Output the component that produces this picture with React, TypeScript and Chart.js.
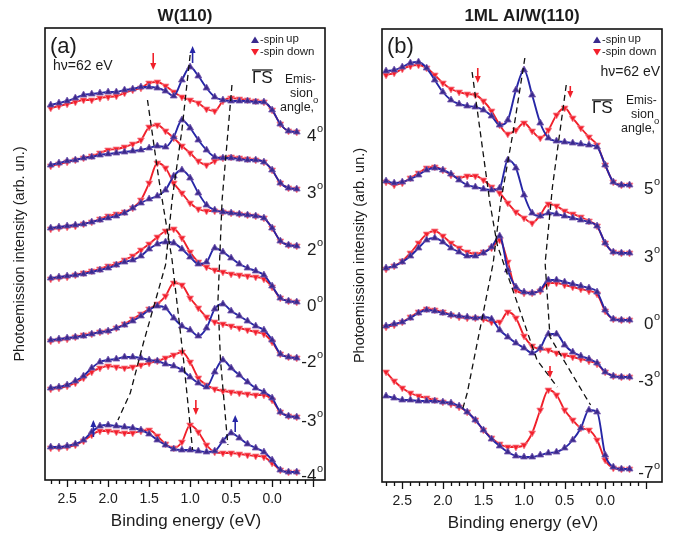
import React, { useEffect, useRef } from "react";
import { Chart, registerables } from "chart.js";

Chart.register(...registerables);

// ---------- shared data ----------
const energies = [2.7, 2.6, 2.5, 2.4, 2.3, 2.2, 2.1, 2.0, 1.9, 1.8, 1.7, 1.6, 1.5, 1.4, 1.3, 1.2, 1.1, 1.0, 0.9, 0.8, 0.7, 0.6, 0.5, 0.4, 0.3, 0.2, 0.1, 0.0, -0.1, -0.2, -0.3];
const majorTicks = [2.5, 2.0, 1.5, 1.0, 0.5, 0.0, -0.5];
const tickLabels = ["2.5", "2.0", "1.5", "1.0", "0.5", "0.0", ""];

// ---------- panel (a) W(110) ----------
const anglesA = ["4", "3", "2", "0", "-2", "-3", "-4"];
const offsetsA = [348, 291, 234, 178, 122, 63, 8];
const a4Up = [27, 29, 31, 34, 37, 38, 39, 40, 40, 42, 43, 45, 45, 44, 41, 36, 52, 65, 56, 44, 35, 32, 31, 31, 31, 30, 30, 22, 8, 1, 0];
const a4Down = [24, 26, 28, 30, 32, 32, 34, 35, 36, 39, 42, 44, 49, 50, 46, 40, 35, 32, 29, 23, 21, 31, 34, 33, 32, 31, 30, 22, 8, 1, 0];
const a3Up = [24, 26, 28, 29, 31, 32, 34, 35, 36, 37, 38, 39, 41, 43, 42, 52, 69, 61, 49, 39, 32, 31, 31, 30, 29, 29, 27, 19, 6, 1, 0];
const a3Down = [23, 25, 27, 29, 31, 33, 36, 39, 40, 42, 45, 49, 62, 64, 58, 51, 43, 36, 28, 24, 28, 31, 32, 31, 30, 29, 27, 19, 6, 1, 0];
const a2Up = [18, 19, 20, 21, 22, 24, 26, 28, 30, 33, 38, 43, 47, 50, 56, 70, 76, 68, 53, 41, 36, 34, 33, 32, 31, 30, 28, 18, 5, 1, 0];
const a2Down = [17, 18, 19, 20, 22, 24, 27, 30, 32, 34, 38, 46, 63, 83, 78, 63, 53, 43, 37, 35, 35, 34, 33, 32, 31, 30, 28, 18, 5, 1, 0];
const a0Up = [24, 25, 26, 27, 28, 30, 32, 34, 37, 40, 42, 46, 53, 58, 60, 59, 53, 45, 38, 40, 54, 50, 44, 38, 34, 31, 27, 16, 4, 1, 0];
const a0Down = [23, 24, 25, 27, 29, 31, 33, 36, 38, 42, 46, 52, 58, 65, 71, 73, 64, 50, 40, 35, 32, 30, 28, 27, 26, 25, 23, 15, 4, 1, 0];
const am2Up = [18, 19, 20, 21, 22, 24, 26, 27, 30, 33, 37, 42, 48, 52, 50, 40, 32, 28, 22, 30, 49, 54, 47, 42, 37, 32, 28, 18, 4, 1, 0];
const am2Down = [17, 18, 19, 21, 23, 24, 26, 27, 30, 34, 39, 44, 49, 54, 62, 75, 73, 60, 50, 41, 36, 34, 32, 30, 28, 26, 24, 16, 4, 1, 0];
const am3Up = [29, 30, 32, 36, 41, 49, 55, 57, 58, 60, 60, 59, 57, 56, 53, 51, 47, 40, 34, 30, 45, 57, 49, 42, 35, 29, 25, 19, 5, 1, 0];
const am3Down = [28, 29, 31, 34, 39, 45, 49, 51, 50, 49, 50, 52, 54, 56, 59, 62, 65, 55, 39, 32, 28, 26, 25, 24, 23, 22, 22, 17, 5, 1, 0];
const am4Up = [25, 25, 26, 28, 32, 40, 46, 47, 46, 45, 44, 42, 38, 32, 27, 23, 22, 22, 21, 20, 21, 31, 39, 34, 28, 24, 20, 12, 2, 0, 0];
const am4Down = [24, 24, 25, 27, 31, 37, 41, 41, 40, 39, 39, 41, 42, 36, 28, 24, 30, 47, 40, 27, 20, 19, 19, 18, 17, 16, 15, 9, 2, 0, 0];
const upA = [a4Up, a3Up, a2Up, a0Up, am2Up, am3Up, am4Up];
const downA = [a4Down, a3Down, a2Down, a0Down, am2Down, am3Down, am4Down];

// dispersion guides (energy, intensity) for panel (a)
const guideA1E = [1.52, 1.38, 1.22, 1.08, 0.97];
const guideA1I = [380, 300, 220, 120, 30];
const guideA2E = [1.0, 1.1, 1.22, 1.3, 1.57, 1.73, 1.88];
const guideA2I = [425, 350, 280, 215, 137, 87, 60];
const guideA3E = [0.49, 0.61, 0.66, 0.63, 0.54];
const guideA3I = [395, 280, 180, 120, 35];

// peak arrows for panel (a)
const arrowAE = [1.45, 0.97, 2.18, 0.93, 0.45];
const arrowAFrom = [427, 417, 43, 80, 48];
const arrowATo = [410, 434, 60, 65, 65];
const arrowASpin = ["down", "up", "up", "down", "up"];

// ---------- panel (b) 1ML Al/W(110) ----------
const anglesB = ["5", "3", "0", "-3", "-7"];
const offsetsB = [297, 229, 162, 105, 13];
const b5Up = [114, 115, 118, 122, 123, 117, 105, 93, 85, 81, 79, 78, 75, 69, 60, 65, 95, 115, 90, 62, 47, 44, 43, 42, 41, 40, 38, 20, 3, 0, 0];
const b5Down = [110, 112, 116, 119, 120, 117, 110, 102, 96, 93, 91, 90, 84, 74, 60, 51, 55, 62, 54, 47, 55, 70, 77, 67, 57, 48, 40, 20, 3, 0, 0];
const b3Up = [72, 70, 71, 74, 78, 83, 85, 83, 79, 73, 68, 66, 64, 63, 65, 93, 85, 58, 40, 37, 40, 39, 37, 35, 33, 31, 27, 10, 1, 0, 0];
const b3Down = [71, 68, 70, 75, 80, 85, 86, 83, 78, 75, 77, 77, 73, 66, 60, 50, 41, 35, 30, 38, 49, 47, 42, 39, 36, 32, 27, 10, 1, 0, 0];
const b0Up = [52, 54, 58, 64, 72, 80, 82, 78, 72, 68, 64, 64, 67, 73, 84, 50, 33, 28, 27, 30, 40, 40, 38, 36, 34, 32, 28, 10, 1, 0, 0];
const b0Down = [51, 54, 59, 67, 77, 86, 89, 84, 77, 72, 68, 66, 68, 72, 80, 58, 30, 27, 27, 29, 37, 37, 35, 33, 31, 29, 26, 9, 1, 0, 0];
const bm3Up = [51, 53, 55, 59, 64, 67, 66, 64, 62, 61, 60, 59, 60, 58, 47, 40, 34, 29, 24, 29, 43, 43, 32, 25, 21, 18, 14, 5, 1, 0, 0];
const bm3Down = [50, 52, 55, 60, 65, 68, 67, 65, 62, 60, 59, 59, 58, 55, 55, 65, 59, 41, 31, 28, 27, 24, 22, 20, 18, 16, 13, 5, 1, 0, 0];
const bm7Up = [73, 71, 69, 69, 68, 68, 68, 67, 66, 63, 57, 49, 39, 30, 23, 17, 13, 12, 12, 14, 16, 17, 21, 29, 41, 59, 57, 14, 2, 0, 0];
const bm7Down = [97, 88, 81, 76, 73, 71, 69, 67, 65, 62, 57, 49, 39, 31, 25, 22, 22, 24, 36, 59, 79, 74, 59, 49, 41, 39, 29, 9, 1, 0, 0];
const upB = [b5Up, b3Up, b0Up, bm3Up, bm7Up];
const downB = [b5Down, b3Down, b0Down, bm3Down, bm7Down];

const guideB1E = [1.64, 1.42, 1.33, 0.84, 0.59];
const guideB1I = [410, 279, 237, 122, 95];
const guideB2E = [0.99, 1.13, 1.29, 1.38, 1.70, 1.76];
const guideB2I = [424, 352, 279, 219, 89, 72];
const guideB3E = [0.48, 0.65, 0.74, 0.68, 0.27, 0.18];
const guideB3I = [397, 295, 219, 145, 89, 77];

const arrowBE = [1.57, 0.43, 0.68];
const arrowBFrom = [414, 396, 116];
const arrowBTo = [399, 384, 104];
const arrowBSpin = ["down", "down", "down"];

// ---------- styling ----------
const FONT = '"Liberation Sans", Arial, Helvetica, sans-serif';
const INK = "#1c1c1c";
const BLUE_LINE = "#2626a6";
const BLUE_PT = "#3a2a8e";
const BLUE_EDGE = "#7a5cb0";
const RED_LINE = "#f0202a";
const RED_PT = "#f3202c";
const RED_EDGE = "#f78a98";

function txt(ctx: CanvasRenderingContext2D, s: string, x: number, y: number, size: number, align: CanvasTextAlign = "left", bold = false) {
  ctx.font = `${bold ? "bold " : ""}${size}px ${FONT}`;
  ctx.textAlign = align;
  ctx.textBaseline = "middle";
  ctx.fillStyle = INK;
  ctx.fillText(s, x, y);
}

function degLabel(ctx: CanvasRenderingContext2D, s: string, xRight: number, y: number) {
  ctx.font = `11px ${FONT}`;
  const wo = ctx.measureText("o").width;
  txt(ctx, "o", xRight - wo, y - 7, 11);
  txt(ctx, s, xRight - wo - 0.5, y, 17, "right");
}

function tri(ctx: CanvasRenderingContext2D, x: number, y: number, up: boolean, color: string) {
  ctx.fillStyle = color;
  ctx.beginPath();
  if (up) {
    ctx.moveTo(x, y - 3.5); ctx.lineTo(x - 4, y + 3); ctx.lineTo(x + 4, y + 3);
  } else {
    ctx.moveTo(x, y + 3.5); ctx.lineTo(x - 4, y - 3); ctx.lineTo(x + 4, y - 3);
  }
  ctx.closePath();
  ctx.fill();
}

function arrow(ctx: CanvasRenderingContext2D, x: number, y1: number, y2: number, color: string) {
  const dir = Math.sign(y2 - y1);
  ctx.strokeStyle = color;
  ctx.fillStyle = color;
  ctx.lineWidth = 1.6;
  ctx.beginPath(); ctx.moveTo(x, y1); ctx.lineTo(x, y2 - dir * 5); ctx.stroke();
  ctx.beginPath(); ctx.moveTo(x, y2); ctx.lineTo(x - 3, y2 - dir * 7); ctx.lineTo(x + 3, y2 - dir * 7); ctx.closePath(); ctx.fill();
}

type PanelCfg = {
  title: string; tag: string; angles: string[]; offsets: number[];
  ups: number[][]; downs: number[][];
  guides: [number[], number[]][];
  arrE: number[]; arrFrom: number[]; arrTo: number[]; arrSpin: string[];
  xmin: number; xmax: number; ymax: number;
  padding: { left: number; right: number; top: number; bottom: number };
  width: number; left: number;
  ytitleX: number; legendX: number; hvX: number; hvY: number; hvAlign: CanvasTextAlign;
  gsX: number; gsY: number; emisX: number; emisY: number;
};

function buildDatasets(c: PanelCfg) {
  const ds: any[] = [];
  c.guides.forEach(([ge, gi]) => {
    ds.push({
      data: ge.map((e, k) => ({ x: e, y: gi[k] })),
      borderColor: "#111", borderWidth: 1.3, borderDash: [6, 4], pointRadius: 0, tension: 0, order: 0, fill: false,
    });
  });
  c.ups.forEach((arr, i) => {
    ds.push({
      data: energies.map((e, k) => ({ x: e, y: c.offsets[i] + arr[k] })),
      borderColor: BLUE_LINE, borderWidth: 1.9, pointStyle: "triangle", pointRotation: 0, pointRadius: 4,
      pointBackgroundColor: BLUE_PT, pointBorderColor: BLUE_EDGE, pointBorderWidth: 0.8,
      cubicInterpolationMode: "monotone", order: 1, fill: false,
    });
  });
  c.downs.forEach((arr, i) => {
    ds.push({
      data: energies.map((e, k) => ({ x: e, y: c.offsets[i] + arr[k] })),
      borderColor: RED_LINE, borderWidth: 1.9, pointStyle: "triangle", pointRotation: 180, pointRadius: 4,
      pointBackgroundColor: RED_PT, pointBorderColor: RED_EDGE, pointBorderWidth: 0.8,
      cubicInterpolationMode: "monotone", order: 2, fill: false,
    });
  });
  return ds;
}

function decor(c: PanelCfg) {
  return {
    id: "decor",
    afterDraw(chart: any) {
      const ctx: CanvasRenderingContext2D = chart.ctx;
      const { left, right, top, bottom } = chart.chartArea;
      const xs = chart.scales.x;
      const ys = chart.scales.y;
      ctx.save();
      // arrows
      c.arrE.forEach((e, i) => {
        const x = xs.getPixelForValue(e);
        arrow(ctx, x, ys.getPixelForValue(c.arrFrom[i]), ys.getPixelForValue(c.arrTo[i]), c.arrSpin[i] === "up" ? BLUE_LINE : RED_LINE);
      });
      // frame
      ctx.strokeStyle = "#111";
      ctx.lineWidth = 1.6;
      ctx.strokeRect(left, top, right - left, bottom - top);
      // ticks
      ctx.lineWidth = 1.3;
      for (let i = -5; i <= 27; i++) {
        const px = Math.round(xs.getPixelForValue(i / 10)) + 0.5;
        if (px < left || px > right) continue;
        const major = i % 5 === 0;
        ctx.beginPath(); ctx.moveTo(px, bottom); ctx.lineTo(px, bottom + (major ? 7 : 4)); ctx.stroke();
      }
      majorTicks.forEach((v, j) => txt(ctx, tickLabels[j], xs.getPixelForValue(v), bottom + 19, 14, "center"));
      txt(ctx, "Binding energy (eV)", (left + right) / 2 + 1, bottom + 41, 17, "center");
      // y title
      ctx.save();
      ctx.translate(c.ytitleX, (top + bottom) / 2);
      ctx.rotate(-Math.PI / 2);
      txt(ctx, "Photoemission intensity (arb. un.)", 0, 0, 14.5, "center");
      ctx.restore();
      // title
      txt(ctx, c.title, (left + right) / 2, 16, 17, "center", true);
      // tag
      txt(ctx, c.tag, left + 5, 47, 22);
      // legend
      const lx = c.legendX;
      tri(ctx, lx, 40, true, BLUE_PT);
      txt(ctx, "-spin", lx + 5, 40, 11);
      txt(ctx, "up", lx + 31, 38.5, 11.5);
      tri(ctx, lx, 52, false, RED_PT);
      txt(ctx, "-spin", lx + 5, 52, 11);
      txt(ctx, "down", lx + 32, 51.5, 11.5);
      // hv
      txt(ctx, "h\u03bd=62 eV", c.hvX, c.hvY, 14, c.hvAlign);
      // GS with bar
      txt(ctx, "\u0393S", c.gsX, c.gsY, 17);
      ctx.font = `17px ${FONT}`;
      const gw = ctx.measureText("\u0393S").width;
      ctx.strokeStyle = INK; ctx.lineWidth = 1.3;
      ctx.beginPath(); ctx.moveTo(c.gsX, c.gsY - 8); ctx.lineTo(c.gsX + gw, c.gsY - 8); ctx.stroke();
      txt(ctx, "Emis-", c.emisX, c.emisY, 12);
      txt(ctx, "sion", c.emisX + 5, c.emisY + 14, 12.5);
      txt(ctx, "angle,", c.emisX - 5, c.emisY + 28, 12.5);
      txt(ctx, "o", c.emisX + 28, c.emisY + 20, 9.5);
      // angle labels
      c.angles.forEach((a, i) => {
        const y = ys.getPixelForValue(c.offsets[i]) + 4;
        degLabel(ctx, a, right - 2, y);
      });
      ctx.restore();
    },
  };
}

const panelA: PanelCfg = {
  title: "W(110)", tag: "(a)", angles: anglesA, offsets: offsetsA, ups: upA, downs: downA,
  guides: [[guideA1E, guideA1I], [guideA2E, guideA2I], [guideA3E, guideA3I]],
  arrE: arrowAE, arrFrom: arrowAFrom, arrTo: arrowATo, arrSpin: arrowASpin,
  xmin: -0.645, xmax: 2.77, ymax: 452,
  padding: { left: 45, right: 11, top: 28, bottom: 54 }, width: 336, left: 0,
  ytitleX: 20, legendX: 255, hvX: 53, hvY: 66, hvAlign: "left",
  gsX: 252, gsY: 78, emisX: 285, emisY: 80,
};

const panelB: PanelCfg = {
  title: "1ML Al/W(110)", tag: "(b)", angles: anglesB, offsets: offsetsB, ups: upB, downs: downB,
  guides: [[guideB1E, guideB1I], [guideB2E, guideB2I], [guideB3E, guideB3I]],
  arrE: arrowBE, arrFrom: arrowBFrom, arrTo: arrowBTo, arrSpin: arrowBSpin,
  xmin: -0.70, xmax: 2.75, ymax: 453,
  padding: { left: 46, right: 11, top: 29, bottom: 52 }, width: 337, left: 336,
  ytitleX: 24, legendX: 261, hvX: 324, hvY: 72, hvAlign: "right",
  gsX: 256, gsY: 108, emisX: 290, emisY: 101,
};

function Panel({ cfg }: { cfg: PanelCfg }) {
  const ref = useRef<HTMLCanvasElement>(null);
  useEffect(() => {
    if (!ref.current) return;
    const chart = new Chart(ref.current, {
      type: "line",
      data: { datasets: buildDatasets(cfg) },
      options: {
        animation: false,
        responsive: false,
        devicePixelRatio: 1,
        layout: { padding: cfg.padding },
        plugins: { legend: { display: false }, tooltip: { enabled: false } },
        scales: {
          x: { type: "linear", min: cfg.xmin, max: cfg.xmax, reverse: true, display: false },
          y: { type: "linear", min: 0, max: cfg.ymax, display: false },
        },
      },
      plugins: [decor(cfg)],
    } as any);
    return () => chart.destroy();
  }, [cfg]);
  return (
    <canvas
      ref={ref}
      width={cfg.width}
      height={534}
      style={{ position: "absolute", left: cfg.left, top: 0, width: cfg.width, height: 534 }}
    />
  );
}

export default function App() {
  return (
    <div style={{ position: "fixed", left: 0, top: 0, width: 673, height: 534, background: "#fff" }}>
      <Panel cfg={panelA} />
      <Panel cfg={panelB} />
    </div>
  );
}
